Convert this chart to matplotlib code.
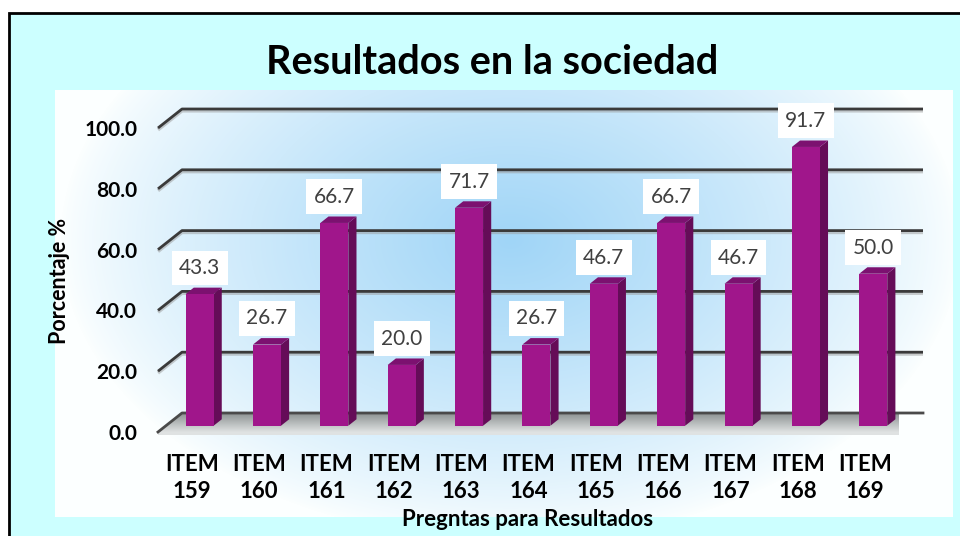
import numpy as np
import matplotlib
matplotlib.use('Agg')
import matplotlib.pyplot as plt
from matplotlib.patches import Rectangle, Polygon

# ---------------- data ----------------
categories = ['ITEM\n159', 'ITEM\n160', 'ITEM\n161', 'ITEM\n162', 'ITEM\n163', 'ITEM\n164',
              'ITEM\n165', 'ITEM\n166', 'ITEM\n167', 'ITEM\n168', 'ITEM\n169']
values = [43.3, 26.7, 66.7, 20.0, 71.7, 26.7, 46.7, 66.7, 46.7, 91.7, 50.0]
yticks = [0, 20, 40, 60, 80, 100]
ytick_labels = ['0.0', '20.0', '40.0', '60.0', '80.0', '100.0']
title = 'Resultados en la sociedad'
xlabel = 'Pregntas para Resultados'
ylabel = 'Porcentaje %'

plt.rcParams['font.family'] = ['Lato', 'DejaVu Sans']

W, H = 960, 536
fig = plt.figure(figsize=(9.6, 5.36), dpi=100)
fig.patch.set_facecolor('white')


def fx(px):
    return px / W


def fy(py):
    return 1 - py / H


# outer cyan frame with black border (left/top visible)
fig.add_artist(Rectangle((fx(9), -0.05), 1.0, fy(13) + 0.05, transform=fig.transFigure,
                         facecolor='#CCFFFF', edgecolor='black', lw=2, zorder=0))

# gradient plot area
L, R, T, B = 55, 953, 90, 517
bg = fig.add_axes([fx(L), fy(B), fx(R) - fx(L), fy(T) - fy(B)])
bg.set_axis_off()
ny, nx = B - T, R - L
yy, xx = np.mgrid[0:ny, 0:nx]
px = L + xx
py = T + yy
r = np.sqrt(((px - 510) / 450.0) ** 2 + ((py - 240) / 300.0) ** 2)
t = np.clip(1 - r, 0, 1) ** 0.8
edge = np.array([252, 255, 255]) / 255.0
center = np.array([160, 213, 247]) / 255.0
img = edge + (center - edge) * t[..., None]
bg.imshow(img, aspect='auto', interpolation='bilinear', extent=[0, 1, 0, 1])

# main axes (front plane)
ax = fig.add_axes([fx(158), fy(432), fx(899) - fx(158), fy(128) - fy(432)])
ax.set_xlim(-0.5, 10.5)
ax.set_ylim(0, 100)
ax.patch.set_alpha(0)
for s in ax.spines.values():
    s.set_visible(False)

n = len(values)
px_per_x = (899 - 158) / n
px_per_y = (432 - 128) / 100.0
dX = 24 / px_per_x
dY = 19 / px_per_y
x0, x1 = -0.5, n - 0.5

# back wall gridlines
for v in yticks[1:]:
    ax.plot([x0, x0 + dX, x1 + dX], [v - 0.6, v + dY - 0.6, v + dY - 0.6], color='#9a9a9a',
            lw=2.5, alpha=0.5, clip_on=False, zorder=1, solid_capstyle='butt')
    ax.plot([x0, x0 + dX, x1 + dX], [v, v + dY, v + dY], color='#3a3a3a', lw=2,
            clip_on=False, zorder=2, solid_capstyle='butt')

# floor
floor = Polygon([(x0, 0), (x1, 0), (x1 + dX, dY), (x0 + dX, dY)], closed=True,
                facecolor='none', edgecolor='none', clip_on=False, zorder=2)
ax.add_patch(floor)
grad = np.linspace(0, 1, 50)[:, None] * np.ones((1, 10))
fc_back = np.array([140, 146, 146]) / 255.0
fc_front = np.array([222, 225, 225]) / 255.0
fimg = fc_back + (fc_front - fc_back) * grad[..., None]
im = ax.imshow(fimg, extent=[x0, x1 + dX, 0, dY], aspect='auto', zorder=2,
               interpolation='bilinear', clip_on=True)
im.set_clip_path(floor)
ax.set_xlim(-0.5, 10.5)
ax.set_ylim(0, 100)
ax.add_patch(Rectangle((x0, -1.0), x1 - x0, 1.0, facecolor='#dfe2e2', edgecolor='none',
                       clip_on=False, zorder=2))
ax.plot([x0, x0 + dX, x1 + dX], [0, dY, dY], color='#4a4a4a', lw=2, clip_on=False, zorder=3)

# bars (pseudo 3D)
f0, f1 = 0.33, 0.67
bw = 28 / px_per_x
ddx = (f1 - f0) * dX
ddy = (f1 - f0) * dY
front_c = '#A0168B'
side_c = '#650C58'
top_c = '#7C1170'
for i, v in enumerate(values):
    cx = i + f0 * dX
    xl, xr = cx - bw / 2, cx + bw / 2
    yb = f0 * dY
    yt = yb + v
    ax.add_patch(Polygon([(xr, yb), (xr + ddx, yb + ddy), (xr + ddx, yt + ddy), (xr, yt)],
                         closed=True, facecolor=side_c, edgecolor='none', clip_on=False, zorder=4))
    ax.add_patch(Polygon([(xl, yt), (xr, yt), (xr + ddx, yt + ddy), (xl + ddx, yt + ddy)],
                         closed=True, facecolor=top_c, edgecolor='none', clip_on=False, zorder=4))
    ax.add_patch(Rectangle((xl, yb), bw, v, facecolor=front_c, edgecolor='none',
                           clip_on=False, zorder=5))
    ax.annotate(f'{v:.1f}', xy=(cx, yt + ddy), xytext=(0, 7), textcoords='offset points',
                ha='center', va='bottom', fontsize=15, color='#404040', zorder=6,
                bbox=dict(boxstyle='square,pad=0.35', facecolor='white', edgecolor='none'))

# ticks & labels
ax.set_yticks(yticks)
ax.set_yticklabels(ytick_labels, fontsize=15, fontweight='bold', color='black')
ax.tick_params(axis='y', length=0, pad=15)
ax.set_xticks(range(n))
ax.set_xticklabels(categories, fontsize=16, fontweight='bold', color='black', linespacing=1.35)
ax.tick_params(axis='x', length=0, pad=16)

ax.set_xlabel(xlabel, fontsize=16, fontweight='bold')
ax.xaxis.set_label_coords((528 - 158) / (899 - 158), (432 - 520) / 304.0)
ax.xaxis.label.set_va('center')
ax.set_ylabel(ylabel, fontsize=15.5, fontweight='bold')
ax.yaxis.set_label_coords((60 - 158) / (899 - 158), (432 - 281) / 304.0)
ax.yaxis.label.set_va('center')

fig.text(fx(492), fy(62), title, ha='center', va='center', fontsize=28.5, fontweight='bold')

fig.savefig('out.png', dpi=100)
